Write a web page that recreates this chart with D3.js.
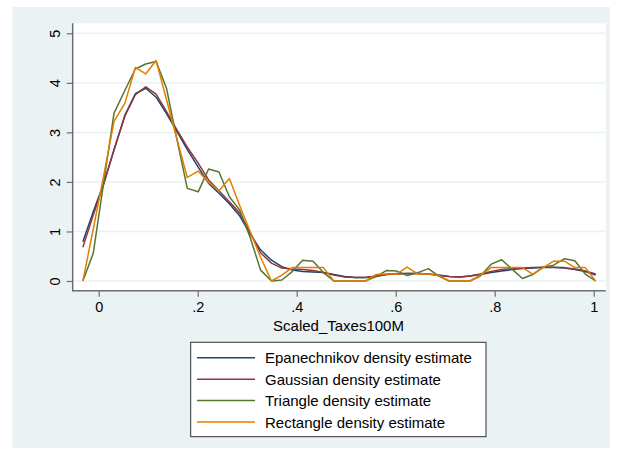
<!DOCTYPE html>
<html><head><meta charset="utf-8">
<script src="https://cdn.jsdelivr.net/npm/d3@7"></script>
<style>
html,body{margin:0;padding:0;background:#fff;}
svg{display:block;font-family:"Liberation Sans",Arial,sans-serif;}
</style></head>
<body><svg id="chart" width="622" height="456"></svg>
<script>
const xGrid = [-0.032,-0.011,0.010,0.031,0.053,0.074,0.095,0.116,0.137,0.158,
  0.179,0.201,0.222,0.243,0.264,0.285,0.306,0.327,0.349,0.370,
  0.391,0.412,0.433,0.454,0.475,0.497,0.518,0.539,0.560,0.581,
  0.602,0.623,0.645,0.666,0.687,0.708,0.729,0.750,0.771,0.793,
  0.814,0.835,0.856,0.877,0.898,0.919,0.941,0.962,0.983,1.004];
const epanechnikov = [0.79,1.40,1.97,2.65,3.35,3.78,3.89,3.71,3.38,3.02,
  2.65,2.30,1.97,1.77,1.56,1.31,0.95,0.63,0.42,0.29,
  0.22,0.19,0.18,0.17,0.13,0.09,0.07,0.07,0.09,0.13,
  0.15,0.15,0.15,0.14,0.12,0.09,0.08,0.10,0.13,0.17,
  0.20,0.23,0.25,0.26,0.27,0.27,0.26,0.23,0.19,0.12];
const gaussian = [0.68,1.33,1.95,2.65,3.33,3.76,3.92,3.77,3.42,3.05,
  2.70,2.38,2.04,1.82,1.60,1.37,0.98,0.57,0.36,0.26,
  0.24,0.23,0.21,0.17,0.12,0.08,0.07,0.07,0.10,0.13,
  0.14,0.15,0.15,0.14,0.11,0.09,0.08,0.10,0.14,0.19,
  0.23,0.25,0.26,0.27,0.28,0.28,0.27,0.24,0.20,0.14];
const triangle = [0.00,0.56,1.98,3.39,3.85,4.28,4.38,4.43,3.89,2.86,
  1.87,1.80,2.26,2.20,1.70,1.43,0.88,0.22,0.00,0.02,
  0.19,0.42,0.40,0.17,0.00,0.00,0.00,0.00,0.09,0.21,
  0.20,0.11,0.17,0.25,0.10,0.00,0.00,0.00,0.10,0.34,
  0.43,0.24,0.05,0.13,0.28,0.32,0.45,0.41,0.14,0.00];
const rectangle = [0.00,1.05,2.12,3.22,3.59,4.31,4.18,4.45,3.66,2.87,
  2.09,2.22,1.99,1.82,2.07,1.52,1.00,0.48,0.00,0.12,
  0.27,0.27,0.27,0.27,0.00,0.00,0.00,0.00,0.13,0.14,
  0.14,0.28,0.14,0.14,0.11,0.00,0.00,0.00,0.12,0.27,
  0.27,0.27,0.27,0.14,0.27,0.40,0.40,0.27,0.27,0.00];
const seriesNames = ["Epanechnikov density estimate","Gaussian density estimate","Triangle density estimate","Rectangle density estimate"];
const seriesColors = ["#1a476f","#90353b","#55752f","#e37e00"];
const xTicks = [0,0.2,0.4,0.6,0.8,1];
const xTickLabels = ["0",".2",".4",".6",".8","1"];
const yTicks = [0,1,2,3,4,5];
const xTitle = "Scaled_Taxes100M";

const svg = d3.select("#chart");
const bgCol = "#eaf2f3";
svg.append("rect").attr("x",12.5).attr("y",7).attr("width",597.5).attr("height",441).attr("fill",bgCol);

const pL = 72.7, pR = 605.7, pT = 23.3, pB = 290.7;
svg.append("rect").attr("x",pL).attr("y",pT).attr("width",pR-pL).attr("height",pB-pT).attr("fill","#fff");

const x = d3.scaleLinear().domain([0,1]).range([98.7,593.7]);
const y = d3.scaleLinear().domain([0,5]).range([281,33.3]);

// gridlines
svg.append("g").selectAll("line").data(yTicks).join("line")
  .attr("x1",pL).attr("x2",pR).attr("y1",d=>y(d)).attr("y2",d=>y(d))
  .attr("stroke",bgCol).attr("stroke-width",1.5);

// curves
const series = [epanechnikov,gaussian,triangle,rectangle];
const line = d3.line().x((d,i)=>x(xGrid[i])).y(d=>y(d));
series.forEach((s,k)=>{
  svg.append("path").datum(s).attr("d",line).attr("fill","none")
    .attr("stroke",seriesColors[k]).attr("stroke-width",1.5).attr("stroke-linejoin","round");
});

const axCol = "#6e6e6e";
// y axis
const yAxis = d3.axisLeft(y).tickValues(yTicks).tickSize(6).tickPadding(0).tickFormat(d3.format("d"));
const gy = svg.append("g").attr("transform",`translate(${pL},0)`).call(yAxis);
gy.select(".domain").remove();
gy.selectAll(".tick line").attr("stroke",axCol).attr("stroke-width",1.2);
gy.selectAll(".tick text").attr("x",0).attr("dy",null)
  .attr("transform","translate(-17.7,0) rotate(-90)")
  .attr("text-anchor","middle").attr("dominant-baseline","central")
  .attr("font-size",14.5).attr("fill","#000").attr("font-family","Liberation Sans, Arial, sans-serif");
svg.append("line").attr("x1",pL).attr("x2",pL).attr("y1",pT).attr("y2",pB+0.7).attr("stroke",axCol).attr("stroke-width",1.5);

// x axis
const xAxis = d3.axisBottom(x).tickValues(xTicks).tickSize(6).tickPadding(5).tickFormat((d,i)=>xTickLabels[i]);
const gx = svg.append("g").attr("transform",`translate(0,${pB})`).call(xAxis);
gx.select(".domain").remove();
gx.selectAll(".tick line").attr("stroke",axCol).attr("stroke-width",1.2);
gx.selectAll(".tick text").attr("font-size",14.5).attr("fill","#000").attr("font-family","Liberation Sans, Arial, sans-serif");
svg.append("line").attr("x1",pL).attr("x2",pR).attr("y1",pB).attr("y2",pB).attr("stroke",axCol).attr("stroke-width",1.5);

svg.append("text").attr("x",338.5).attr("y",325).attr("text-anchor","middle").attr("dominant-baseline","central")
  .attr("font-size",15).text(xTitle);

// legend
const lg = svg.append("g");
lg.append("rect").attr("x",190.7).attr("y",342.3).attr("width",295.3).attr("height",94.4)
  .attr("fill","#fff").attr("stroke","#333").attr("stroke-width",1);
const rowY = [357.7,379.2,400.6,422];
seriesNames.forEach((n,k)=>{
  lg.append("line").attr("x1",197).attr("x2",255).attr("y1",rowY[k]).attr("y2",rowY[k])
    .attr("stroke",seriesColors[k]).attr("stroke-width",1.5);
  lg.append("text").attr("x",265).attr("y",rowY[k]).attr("dominant-baseline","central")
    .attr("font-size",15).text(n);
});
</script></body></html>
